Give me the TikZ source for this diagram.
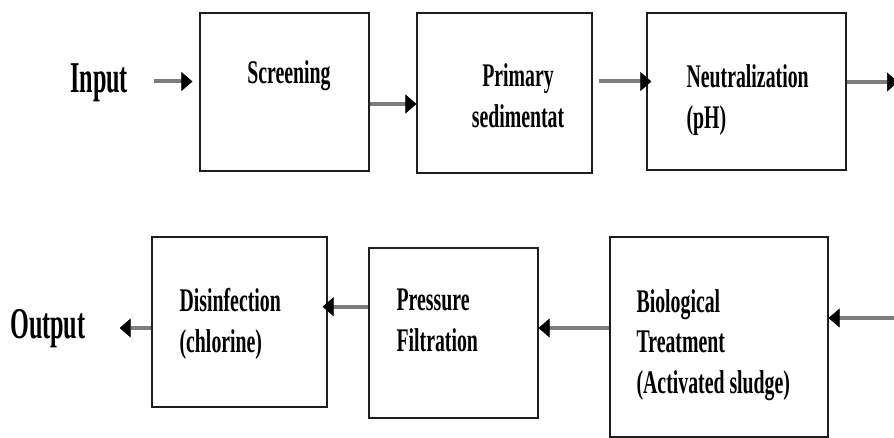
\documentclass[tikz,border=0pt]{standalone}
\usepackage{fontspec}
\setmainfont{Liberation Serif}[FakeStretch=0.6]
\newfontfamily\iofont{Liberation Serif}[FakeStretch=0.55]
\usetikzlibrary{arrows.meta, calc, positioning}
\definecolor{RichBlack}{RGB}{30, 30, 30}
\definecolor{ShaftGray}{RGB}{125, 125, 125}
\tikzset{%
  process_block/.style={%
    rectangle,%
    draw=RichBlack,%
    line width=1.2pt,%
  },
  block_text/.style={%
    inner sep=0pt,%
    font={\fontsize{33}{40.5}\selectfont\bfseries},%
  },
  io_text/.style={%
    inner sep=0pt,%
    font={\iofont\fontsize{44}{52}\selectfont\bfseries},%
  },
  flow_path/.style={%
    color=ShaftGray,%
    line width=4pt,%
  },
  arrow/.style={-{Triangle[length=11pt, width=19pt, line width=0.5pt, color=black]}},
}

\begin{document}
\begin{tikzpicture}[x=1pt, y=-1pt]
    \useasboundingbox (0, 0) rectangle (894, 438);

    % top row
    \node[process_block, minimum width=169pt, minimum height=158pt] (Screen) at (284.5, 92) {};
    \node[process_block, minimum width=175pt, minimum height=160pt] (Primary) at (504.5, 93) {};
    \node[process_block, minimum width=199pt, minimum height=157pt] (Neutral) at (746.5, 91.5) {};
    % bottom row
    \node[process_block, minimum width=175pt, minimum height=170pt] (Disinf) at (239.5, 322) {};
    \node[process_block, minimum width=169pt, minimum height=170pt] (Press) at (453.5, 333) {};
    \node[process_block, minimum width=218pt, minimum height=200pt] (Bio) at (719, 337) {};

    % labels (base = last line)
    \node[block_text, anchor=base] (ScreenText)
      at ([xshift=4.5pt, yshift=-71pt]Screen.north) {Screening};
    \node[block_text, anchor=base, align=center] (PrimaryText)
      at ([xshift=13.5pt, yshift=-115pt]Primary.north) {Primary\\sedimentat};
    \node[block_text, anchor=base west, align=left] (NeutralText)
      at ([xshift=40pt, yshift=-116pt]Neutral.north west) {Neutralization\\(pH)};
    \node[block_text, anchor=base west, align=left] (DisinfText)
      at ([xshift=28pt, yshift=-116pt]Disinf.north west) {Disinfection\\(chlorine)};
    \node[block_text, anchor=base west, align=left] (PressText)
      at ([xshift=28pt, yshift=-104pt]Press.north west) {Pressure\\Filtration};
    \node[block_text, anchor=base west, align=left] (BioText)
      at ([xshift=27pt, yshift=-157pt]Bio.north west) {Biological\\Treatment\\(Activated sludge)};

    \node[io_text, anchor=base west] (Input) at (70, 93) {Input};
    \node[io_text, anchor=base west] (Output) at (10, 338) {Output};
    \coordinate (RightEdge) at (898, 0);

    \draw[flow_path, arrow, shorten <=26pt, shorten >=7pt]
      ([yshift=10.5pt]Screen.west) coordinate (ScreenIn)
      (ScreenIn -| Input.east)
      --
      (ScreenIn);
    \draw[flow_path, arrow]
      ([yshift=-12pt]Screen.east) coordinate (ScreenOut)
      --
      (ScreenOut -| Primary.west);
    \draw[flow_path, arrow, shorten <=6pt, shorten >=-5pt]
      ([yshift=11.5pt]Primary.east) coordinate (PrimaryOut)
      --
      (PrimaryOut -| Neutral.west);
    \draw[flow_path, arrow]
      ([yshift=9.5pt]Neutral.east) coordinate (NeutralOut)
      --
      (NeutralOut -| RightEdge);
    \draw[flow_path, arrow]
      ([yshift=19pt]Bio.east) coordinate (BioIn)
      (BioIn -| RightEdge)
      --
      (BioIn);
    \draw[flow_path, arrow]
      ([yshift=9pt]Bio.west) coordinate (BioOut)
      --
      (BioOut -| Press.east);
    \draw[flow_path, arrow, shorten >=-5pt]
      ([yshift=26.3pt]Press.west) coordinate (PressOut)
      --
      (PressOut -| Disinf.east);
    \draw[flow_path, arrow, shorten >=34pt]
      ([yshift=-6pt]Disinf.west) coordinate (DisinfOut)
      --
      (DisinfOut -| Output.east);

  \end{tikzpicture}
\end{document}
